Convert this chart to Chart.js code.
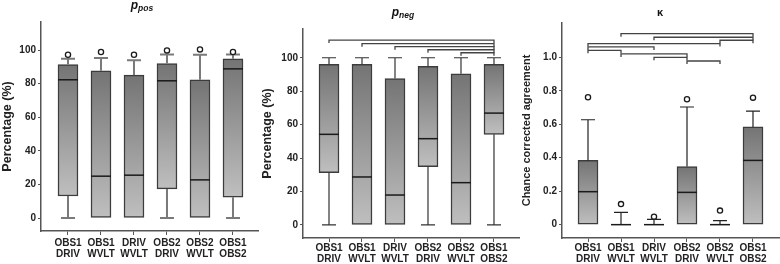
<!DOCTYPE html>
<html>
<head>
<meta charset="utf-8">
<script src="https://cdn.jsdelivr.net/npm/chart.js@4.4.1/dist/chart.umd.min.js"></script>
<style>
  body { margin: 0; background: #fff; }
  #wrap { position: relative; width: 780px; height: 264px; overflow: hidden; font-family: Arial, "Liberation Sans", sans-serif; }
  .panel { position: absolute; top: 0; width: 260px; height: 264px; }
  .title { position: absolute; font-weight: bold; color: #111; white-space: nowrap; transform: translateX(-50%); line-height: 12px; font-size: 12px; z-index: 2; }
  .title sub { font-size: 8.5px; vertical-align: baseline; position: relative; top: 2px; font-style: italic; }
</style>
</head>
<body>
<div id="wrap">
  <div class="panel" style="left:0"><canvas id="pos" width="260" height="264"></canvas></div>
  <div class="panel" style="left:260px"><canvas id="neg" width="260" height="264"></canvas></div>
  <div class="panel" style="left:520px"><canvas id="kap" width="260" height="264"></canvas></div>
  <div class="title" style="left:142px; top:-1px"><i>p</i><sub>pos</sub></div>
  <div class="title" style="left:403px; top:6px"><i>p</i><sub>neg</sub></div>
  <div class="title" style="left:660px; top:6px; font-size:11px">κ</div>
</div>
<script>
const categories = [["OBS1", "DRIV"], ["OBS1", "WVLT"], ["DRIV", "WVLT"], ["OBS2", "DRIV"], ["OBS2", "WVLT"], ["OBS1", "OBS2"]];

// p_pos
const posLow = [0, 0, 0, 0, 0, 0];
const posQ1 = [13.1, 0, 0, 17.3, 0, 12.4];
const posMed = [82.3, 24.9, 25.5, 81.7, 22.7, 88.8];
const posQ3 = [91.4, 87.6, 85.1, 92, 82.3, 94.8];
const posHigh = [94.8, 95.2, 94, 97.4, 97.2, 97.4];
const posOut = [97.2, 98.8, 97.2, 99.8, 100.4, 98.8];

// p_neg
const negLow = [0, 0, 0, 0, 0, 0];
const negQ1 = [31.3, 0, 0, 34.9, 0, 54.2];
const negMed = [54.2, 28.7, 17.9, 51.6, 25.3, 66.9];
const negQ3 = [96, 96, 87.6, 94.8, 90.4, 96];
const negHigh = [100, 100, 100, 100, 100, 100];
const negOut = [];
const negPairs = [[0, 5], [1, 5], [2, 5], [3, 5], [4, 5]];
const negLevels = [110.6, 108.4, 106.6, 104.8, 103];

// kappa
const kapLow = [0, 0, 0, 0, 0, 0];
const kapQ1 = [0, 0, 0, 0, 0, 0];
const kapMed = [0.197, 0, 0, 0.193, 0, 0.384];
const kapQ3 = [0.384, 0, 0, 0.347, 0, 0.584];
const kapHigh = [0.627, 0.074, 0.032, 0.703, 0.024, 0.679];
const kapOut = [0.761, 0.123, 0.048, 0.749, 0.084, 0.759];
const kapPairs = [[1, 5], [2, 5], [4, 5], [0, 4], [0, 2], [0, 1], [1, 3], [2, 3], [3, 4]];
const kapLevels = [1.141, 1.12, 1.102, 1.082, 1.062, 1.042, 1.02, 1.0, 0.978];

const pctTicks = [0, 20, 40, 60, 80, 100];
const kapTicks = [0, 0.2, 0.4, 0.6, 0.8, 1.0];

Chart.defaults.font.family = 'Arial, "Liberation Sans", sans-serif';

function boxFill(ctx) {
    const chart = ctx.chart;
    if (!chart.chartArea || ctx.type !== "data") return "#999";
    const y = chart.scales.y;
    const top = y.getPixelForValue(ctx.raw.y[1]);
    const bot = y.getPixelForValue(ctx.raw.y[0]);
    if (bot - top < 1) return "#999";
    const g = chart.ctx.createLinearGradient(0, top, 0, bot);
    g.addColorStop(0, "#747474");
    g.addColorStop(1, "#bfbfbf");
    return g;
}

// whiskers, medians, outliers and significance brackets
function boxExtras(s) {
    return {
        id: "boxExtras",
        afterDatasetsDraw(chart) {
            const ctx = chart.ctx;
            const xs = chart.scales.x, ys = chart.scales.y;
            ctx.save();
            ctx.strokeStyle = s.whiskerColor;
            ctx.lineWidth = s.whiskerWidth;
            s.q3.forEach((q3, i) => {
                const cx = xs.getPixelForValue(i);
                [[s.high[i], q3], [s.low[i], s.q1[i]]].forEach(([end, edge]) => {
                    if (end === edge) return;
                    const pe = ys.getPixelForValue(end), pb = ys.getPixelForValue(edge);
                    ctx.beginPath();
                    ctx.moveTo(cx, pb);
                    ctx.lineTo(cx, pe);
                    ctx.moveTo(cx - 7, pe);
                    ctx.lineTo(cx + 7, pe);
                    ctx.stroke();
                });
            });
            ctx.strokeStyle = "#1a1a1a";
            ctx.lineWidth = 1.5;
            s.med.forEach((m, i) => {
                const cx = xs.getPixelForValue(i), py = ys.getPixelForValue(m);
                ctx.beginPath();
                ctx.moveTo(cx - 10, py);
                ctx.lineTo(cx + 10, py);
                ctx.stroke();
            });
            ctx.lineWidth = 1.3;
            ctx.fillStyle = "#fff";
            s.out.forEach((o, i) => {
                ctx.beginPath();
                ctx.arc(xs.getPixelForValue(i), ys.getPixelForValue(o), 2.6, 0, Math.PI * 2);
                ctx.fill();
                ctx.stroke();
            });
            ctx.strokeStyle = "#444";
            ctx.lineWidth = 1.3;
            (s.pairs || []).forEach(([a, b], k) => {
                const py = ys.getPixelForValue(s.levels[k]);
                const xa = xs.getPixelForValue(a), xb = xs.getPixelForValue(b);
                ctx.beginPath();
                ctx.moveTo(xa, py + 3);
                ctx.lineTo(xa, py);
                ctx.lineTo(xb, py);
                ctx.lineTo(xb, py + 3);
                ctx.stroke();
            });
            ctx.restore();
        }
    };
}

function boxChart(id, s) {
    const tickFont = { size: 10, weight: "bold" };
    return new Chart(document.getElementById(id), {
        type: "bar",
        data: {
            datasets: [{
                data: s.q1.map((v, i) => ({ x: i, y: [v, s.q3[i]] })),
                backgroundColor: boxFill,
                borderColor: "#3c3c3c",
                borderWidth: 1.5,
                borderSkipped: false,
                barThickness: 20
            }]
        },
        options: {
            responsive: false,
            animation: false,
            layout: { padding: { top: s.top, right: s.right, left: 0, bottom: 0 } },
            plugins: { legend: { display: false }, tooltip: { enabled: false } },
            scales: {
                x: {
                    type: "linear",
                    offset: false,
                    min: s.xMin,
                    max: s.xMax,
                    afterBuildTicks: a => { a.ticks = categories.map((c, i) => ({ value: i })); },
                    afterFit: a => { a.height = s.xHeight; },
                    ticks: {
                        callback: v => categories[v],
                        font: { size: 10, weight: "bold", lineHeight: 1.05 },
                        color: "#222",
                        padding: s.xPad,
                        maxRotation: 0,
                        autoSkip: false
                    },
                    grid: { offset: false, drawOnChartArea: false, tickLength: 4, color: "#555" },
                    border: { color: "#555", width: 1.5 }
                },
                y: {
                    min: s.yMin,
                    max: s.yMax,
                    afterBuildTicks: a => { a.ticks = s.ticks.map(v => ({ value: v })); },
                    afterFit: a => { a.width = s.yWidth; },
                    ticks: { callback: s.fmt, font: tickFont, color: "#222", padding: 2 },
                    grid: { drawOnChartArea: false, tickLength: 3, color: "#555" },
                    border: { color: "#555", width: 1.5 },
                    title: { display: true, text: s.label, font: { size: s.labelSize, weight: "bold" }, color: "#222", padding: 0 }
                }
            }
        },
        plugins: [boxExtras(s)]
    });
}

const pctFmt = v => String(v);

boxChart("pos", {
    low: posLow, q1: posQ1, med: posMed, q3: posQ3, high: posHigh, out: posOut,
    whiskerColor: "#7a7a7a", whiskerWidth: 2,
    top: 22, right: 2, yWidth: 41, xHeight: 33, xPad: 3,
    xMin: -0.818, xMax: 5.758, yMin: -7.74, yMax: 116.7,
    ticks: pctTicks, fmt: pctFmt, label: "Percentage (%)", labelSize: 12.5
});

boxChart("neg", {
    low: negLow, q1: negQ1, med: negMed, q3: negQ3, high: negHigh, out: negOut,
    pairs: negPairs, levels: negLevels,
    whiskerColor: "#333", whiskerWidth: 1.2,
    top: 29, right: 1, yWidth: 43, xHeight: 26, xPad: 1,
    xMin: -0.788, xMax: 5.758, yMin: -7.8, yMax: 117.2,
    ticks: pctTicks, fmt: pctFmt, label: "Percentage (%)", labelSize: 12.5
});

boxChart("kap", {
    low: kapLow, q1: kapQ1, med: kapMed, q3: kapQ3, high: kapHigh, out: kapOut,
    pairs: kapPairs, levels: kapLevels,
    whiskerColor: "#222", whiskerWidth: 1.2,
    top: 23, right: 1, yWidth: 42, xHeight: 26, xPad: 1,
    xMin: -0.788, xMax: 5.788, yMin: -0.0797, yMax: 1.205,
    ticks: kapTicks, fmt: v => (v === 0 ? "0" : v.toFixed(1)), label: "Chance corrected agreement", labelSize: 11
});
</script>
</body>
</html>
